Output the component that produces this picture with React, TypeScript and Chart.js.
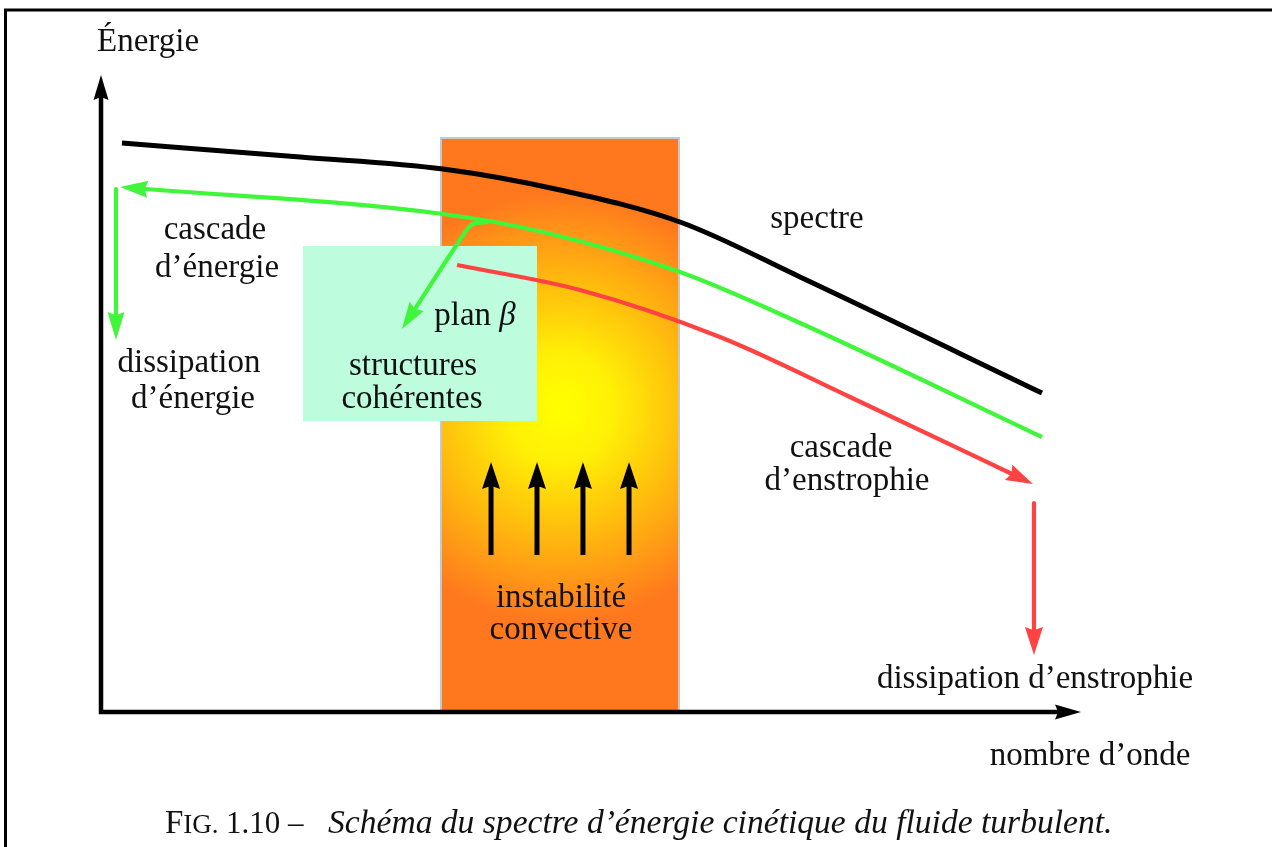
import React, { useEffect, useRef } from "react";
import { Chart, registerables } from "chart.js";

Chart.register(...registerables);

// Schematic units: wavenumber k in [0,100] along the x axis, energy E in [0,100] along the y axis.
const spectreK = [2.14, 20.31, 34.9, 46.84, 59.08, 71.33, 96.02];
const spectreE = [89.32, 87.13, 85.24, 81.95, 76.92, 68.29, 50.08];

const energyCascadeK = [1.94, 34.9, 45.51, 59.08, 71.33, 96.02];
const energyCascadeE = [82.42, 78.18, 75.2, 69.07, 61.07, 43.17];

const betaBranchK = [39.49, 37.96, 37.24, 30.71];
const betaBranchE = [76.92, 76.61, 75.51, 60.13];

const enstrophyCascadeK = [36.33, 48.88, 63.16, 76.43, 95.1];
const enstrophyCascadeE = [70.17, 66.25, 58.87, 49.45, 35.79];

const energyDissipK = [1.53, 1.53];
const energyDissipE = [82.1, 58.4];

const enstrophyDissipK = [95.2, 95.2];
const enstrophyDissipE = [32.81, 8.95];

const convectionK = [39.8, 44.49, 49.18, 53.88];
const convectionE = [24.65, 39.25];

const forcingBandK = [34.69, 58.98];
const forcingBandE = [0, 90.11];

const structuresBoxK = [20.61, 44.49];
const structuresBoxE = [45.68, 73.16];

const labelTexts = [
  "spectre",
  "cascade",
  "d\u2019\u00e9nergie",
  "dissipation",
  "d\u2019\u00e9nergie",
  "structures",
  "coh\u00e9rentes",
  "cascade",
  "d\u2019enstrophie",
  "instabilit\u00e9",
  "convective",
  "dissipation d\u2019enstrophie",
  "nombre d\u2019onde",
  "\u00c9nergie",
];
const labelK = [73.06, 11.63, 11.84, 8.98, 9.39, 31.84, 31.73, 75.51, 76.12, 46.94, 46.94, 95.31, 100.92, 4.8];
const labelE = [75.98, 74.25, 68.29, 53.38, 47.72, 52.9, 47.72, 40.03, 34.85, 16.48, 11.46, 3.77, -8.32, 103.77];

const betaLabelK = 38.16;
const betaLabelE = 60.75;

const W = 1272;
const H = 847;
const SERIF = '"Liberation Serif", "Times New Roman", serif';
const FS = 33;
const GREEN = "rgb(64,246,58)";
const RED = "rgb(255,66,66)";

const pts = (xs: number[], ys: number[]) => xs.map((x, i) => ({ x, y: ys[i] }));

function headGeom(tx: number, ty: number, dx: number, dy: number, len: number) {
  const n = Math.hypot(dx, dy) || 1;
  const ux = dx / n;
  const uy = dy / n;
  const px = -uy;
  const py = ux;
  const bx = tx - ux * len;
  const by = ty - uy * len;
  const notch = len * 0.12;
  return { ux, uy, px, py, bx, by, notch };
}

function drawHead(ctx: CanvasRenderingContext2D, tx: number, ty: number, dx: number, dy: number, len: number, half: number, color: string) {
  const g = headGeom(tx, ty, dx, dy, len);
  ctx.save();
  ctx.fillStyle = color;
  ctx.beginPath();
  ctx.moveTo(tx, ty);
  ctx.lineTo(g.bx + g.px * half, g.by + g.py * half);
  ctx.lineTo(g.bx + g.ux * g.notch, g.by + g.uy * g.notch);
  ctx.lineTo(g.bx - g.px * half, g.by - g.py * half);
  ctx.closePath();
  ctx.fill();
  ctx.restore();
}

function clipHead(ctx: CanvasRenderingContext2D, tx: number, ty: number, dx: number, dy: number, len: number, half: number) {
  const g = headGeom(tx, ty, dx, dy, len);
  const w = half + 4;
  const sx = g.bx + g.ux * (g.notch + 0.5);
  const sy = g.by + g.uy * (g.notch + 0.5);
  const ex = tx + g.ux * 6;
  const ey = ty + g.uy * 6;
  ctx.beginPath();
  ctx.rect(0, 0, W, H);
  ctx.moveTo(sx + g.px * w, sy + g.py * w);
  ctx.lineTo(ex + g.px * w, ey + g.py * w);
  ctx.lineTo(ex - g.px * w, ey - g.py * w);
  ctx.lineTo(sx - g.px * w, sy - g.py * w);
  ctx.closePath();
  ctx.clip("evenodd");
}

function arrowInfo(meta: any, ds: any) {
  const els = meta.data;
  if (!ds.arrow || !els || els.length < 2) return null;
  const n = els.length;
  const tip = ds.arrow === "start" ? els[0] : els[n - 1];
  const prev = ds.arrow === "start" ? els[1] : els[n - 2];
  return { tx: tip.x, ty: tip.y, dx: tip.x - prev.x, dy: tip.y - prev.y };
}

function drawArrowLine(ctx: CanvasRenderingContext2D, x0: number, y0: number, x1: number, y1: number, width: number, len: number, half: number, color: string) {
  const g = headGeom(x1, y1, x1 - x0, y1 - y0, len);
  ctx.save();
  ctx.strokeStyle = color;
  ctx.lineWidth = width;
  ctx.lineCap = "butt";
  ctx.beginPath();
  ctx.moveTo(x0, y0);
  ctx.lineTo(g.bx + g.ux * (g.notch + 0.5), g.by + g.uy * (g.notch + 0.5));
  ctx.stroke();
  ctx.restore();
  drawHead(ctx, x1, y1, x1 - x0, y1 - y0, len, half, color);
}

const schemaPlugin = {
  id: "schema",
  beforeDraw(chart: any) {
    const ctx = chart.ctx as CanvasRenderingContext2D;
    ctx.save();
    ctx.fillStyle = "#ffffff";
    ctx.fillRect(0, 0, W, H);
    ctx.strokeStyle = "#000";
    ctx.lineWidth = 3;
    ctx.beginPath();
    ctx.moveTo(4, 10);
    ctx.lineTo(W, 10);
    ctx.moveTo(5.5, 9);
    ctx.lineTo(5.5, H);
    ctx.stroke();
    ctx.restore();
  },
  beforeDatasetsDraw(chart: any) {
    const ctx = chart.ctx as CanvasRenderingContext2D;
    const xs = chart.scales.x;
    const ys = chart.scales.y;
    // forcing band (convective instability)
    const bx0 = xs.getPixelForValue(forcingBandK[0]);
    const bx1 = xs.getPixelForValue(forcingBandK[1]);
    const by0 = ys.getPixelForValue(forcingBandE[1]);
    const by1 = ys.getPixelForValue(forcingBandE[0]);
    const cx = bx0 + (bx1 - bx0) * 0.5;
    const cy = by0 + (by1 - by0) * 0.47;
    const r = (bx1 - bx0) * 0.9;
    const grad = ctx.createRadialGradient(cx, cy, 0, cx, cy, r);
    grad.addColorStop(0, "rgb(255,255,0)");
    grad.addColorStop(0.25, "rgb(255,240,6)");
    grad.addColorStop(0.6, "rgb(255,185,14)");
    grad.addColorStop(1, "rgb(255,120,30)");
    ctx.save();
    ctx.fillStyle = grad;
    ctx.fillRect(bx0, by0, bx1 - bx0, by1 - by0);
    ctx.strokeStyle = "rgb(200,200,200)";
    ctx.lineWidth = 2;
    ctx.beginPath();
    ctx.moveTo(bx0, by1);
    ctx.lineTo(bx0, by0);
    ctx.lineTo(bx1, by0);
    ctx.lineTo(bx1, by1);
    ctx.stroke();
    // coherent structures box
    const sx0 = xs.getPixelForValue(structuresBoxK[0]);
    const sx1 = xs.getPixelForValue(structuresBoxK[1]);
    const sy0 = ys.getPixelForValue(structuresBoxE[1]);
    const sy1 = ys.getPixelForValue(structuresBoxE[0]);
    ctx.fillStyle = "rgb(190,252,222)";
    ctx.fillRect(sx0, sy0, sx1 - sx0, sy1 - sy0);
    ctx.restore();
    // axes with arrows
    const a = chart.chartArea;
    drawArrowLine(ctx, a.left - 2, a.bottom, a.right, a.bottom, 4.5, 26, 7.5, "#000");
    drawArrowLine(ctx, a.left, a.bottom + 2, a.left, a.top, 4.5, 25, 7.5, "#000");
  },
  beforeDatasetDraw(chart: any, args: any) {
    const ds = chart.data.datasets[args.index];
    const info = arrowInfo(args.meta, ds);
    if (!info) return;
    const ctx = chart.ctx as CanvasRenderingContext2D;
    ctx.save();
    clipHead(ctx, info.tx, info.ty, info.dx, info.dy, ds.headLen, ds.headHalf);
  },
  afterDatasetDraw(chart: any, args: any) {
    const ds = chart.data.datasets[args.index];
    const info = arrowInfo(args.meta, ds);
    if (!info) return;
    const ctx = chart.ctx as CanvasRenderingContext2D;
    ctx.restore();
    drawHead(ctx, info.tx, info.ty, info.dx, info.dy, ds.headLen, ds.headHalf, ds.borderColor);
  },
  afterDatasetsDraw(chart: any) {
    const ctx = chart.ctx as CanvasRenderingContext2D;
    const xs = chart.scales.x;
    const ys = chart.scales.y;
    ctx.save();
    ctx.fillStyle = "#111";
    ctx.textBaseline = "alphabetic";
    ctx.textAlign = "center";
    ctx.font = `${FS}px ${SERIF}`;
    labelTexts.forEach((t, i) => {
      ctx.fillText(t, xs.getPixelForValue(labelK[i]), ys.getPixelForValue(labelE[i]));
    });
    // "plan β"
    const bxp = xs.getPixelForValue(betaLabelK);
    const byp = ys.getPixelForValue(betaLabelE);
    ctx.font = `${FS}px ${SERIF}`;
    const w1 = ctx.measureText("plan ").width;
    ctx.font = `italic ${FS}px ${SERIF}`;
    const w2 = ctx.measureText("\u03b2").width;
    const start = bxp - (w1 + w2) / 2;
    ctx.textAlign = "left";
    ctx.font = `${FS}px ${SERIF}`;
    ctx.fillText("plan ", start, byp);
    ctx.font = `italic ${FS}px ${SERIF}`;
    ctx.fillText("\u03b2", start + w1, byp);
    // caption
    const base = 833;
    ctx.font = `33px ${SERIF}`;
    ctx.fillText("F", 165, base);
    const fw = ctx.measureText("F").width;
    ctx.font = `27px ${SERIF}`;
    ctx.fillText("IG.", 165 + fw, base);
    ctx.font = `31px ${SERIF}`;
    ctx.fillText("1.10", 226, base);
    ctx.fillText("\u2013", 288, base);
    ctx.font = `italic 33.6px ${SERIF}`;
    ctx.fillText("Sch\u00e9ma du spectre d\u2019\u00e9nergie cin\u00e9tique du fluide turbulent.", 328, base);
    ctx.restore();
  },
};

export default function App() {
  const canvasRef = useRef<HTMLCanvasElement | null>(null);

  useEffect(() => {
    if (!canvasRef.current) return;
    const lineBase = {
      pointRadius: 0,
      pointHoverRadius: 0,
      fill: false,
      clip: false as any,
      borderCapStyle: "butt",
      borderJoinStyle: "round",
    };
    const datasets: any[] = [
      {
        ...lineBase,
        label: "spectre",
        data: pts(spectreK, spectreE),
        borderColor: "#000",
        borderWidth: 5,
        cubicInterpolationMode: "monotone",
      },
      {
        ...lineBase,
        label: "cascade d'énergie",
        data: pts(energyCascadeK, energyCascadeE),
        borderColor: GREEN,
        borderWidth: 4.2,
        cubicInterpolationMode: "monotone",
        arrow: "start",
        headLen: 28,
        headHalf: 8.5,
      },
      {
        ...lineBase,
        label: "plan beta",
        data: pts(betaBranchK, betaBranchE),
        borderColor: GREEN,
        borderWidth: 4.2,
        tension: 0.35,
        arrow: "end",
        headLen: 27,
        headHalf: 8.5,
      },
      {
        ...lineBase,
        label: "dissipation d'énergie",
        data: pts(energyDissipK, energyDissipE),
        borderColor: GREEN,
        borderWidth: 4.2,
        arrow: "end",
        headLen: 28,
        headHalf: 8.5,
      },
      {
        ...lineBase,
        label: "cascade d'enstrophie",
        data: pts(enstrophyCascadeK, enstrophyCascadeE),
        borderColor: RED,
        borderWidth: 4.2,
        cubicInterpolationMode: "monotone",
        arrow: "end",
        headLen: 27,
        headHalf: 8.5,
      },
      {
        ...lineBase,
        label: "dissipation d'enstrophie",
        data: pts(enstrophyDissipK, enstrophyDissipE),
        borderColor: RED,
        borderWidth: 4.2,
        arrow: "end",
        headLen: 28,
        headHalf: 9,
      },
      ...convectionK.map((k, i) => ({
        ...lineBase,
        label: `convection ${i + 1}`,
        data: pts([k, k], convectionE),
        borderColor: "#000",
        borderWidth: 5,
        arrow: "end",
        headLen: 27,
        headHalf: 9,
      })),
    ];

    const chart = new Chart(canvasRef.current, {
      type: "line",
      data: { datasets },
      options: {
        animation: false,
        responsive: true,
        maintainAspectRatio: false,
        events: [],
        layout: { padding: { left: 101, right: 191, top: 75, bottom: 135 } },
        scales: {
          x: { type: "linear", min: 0, max: 100, display: false },
          y: { type: "linear", min: 0, max: 100, display: false },
        },
        plugins: {
          legend: { display: false },
          title: { display: false },
          tooltip: { enabled: false },
        },
      } as any,
      plugins: [schemaPlugin as any],
    });
    return () => chart.destroy();
  }, []);

  return (
    <div style={{ position: "fixed", left: 0, top: 0, width: W, height: H, background: "#fff" }}>
      <canvas ref={canvasRef} />
    </div>
  );
}
